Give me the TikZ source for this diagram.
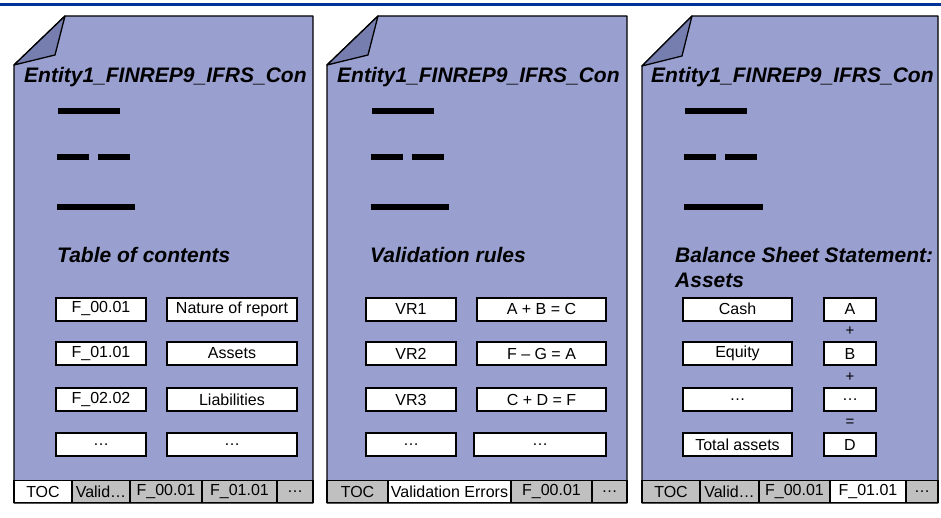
\documentclass[tikz,border=0pt]{standalone}
\usepackage{fontspec}
\setmainfont{Liberation Sans}
\definecolor{sheetblue}{RGB}{153,160,208}
\definecolor{foldblue}{RGB}{118,126,176}
\definecolor{ruleblue}{RGB}{0,51,153}
\definecolor{tabgray}{RGB}{192,192,192}
\tikzset{
  page/.style={draw=black,line width=1.3pt,fill=sheetblue,line join=round},
  corner/.style={draw=black,line width=1.3pt,fill=foldblue,line join=round},
  title/.style={anchor=west,inner sep=0pt,font=\fontsize{21}{24}\selectfont\bfseries\itshape},
  bar/.style={line width=6pt},
  cell/.style={draw=black,line width=2pt,fill=white,minimum height=23pt,inner sep=0pt,font=\fontsize{16}{18}\selectfont},
  tab/.style={draw=black,line width=1.5pt,fill=tabgray,minimum height=22pt,inner sep=0pt,font=\fontsize{16}{18}\selectfont},
  sign/.style={inner sep=0pt,font=\fontsize{15}{16}\selectfont}
}
\begin{document}
\begin{tikzpicture}[x=1pt,y=-1pt]
\useasboundingbox (0,0) rectangle (941,518);
\draw[ruleblue,line width=3pt] (0,5) -- (941,5);

%toc sheet
        \draw[page] (65,16) -- (313,16) -- (313,503) -- (14,503) -- (14,65) -- cycle;
        \draw[corner] (65,16) -- (55,55) -- (14,65) -- cycle;
        \node[title] (t1) at (24,77) {Entity1\_FINREP9\_IFRS\_Con};
        \draw[bar] (58,111) -- (120,111);
        \draw[bar] (57,157) -- (89,157);
        \draw[bar] (98,157) -- (130,157);
        \draw[bar] (57,207) -- (135,207);
        \node[title] (h1) at (57,255) {Table of contents};

        \node[cell,minimum width=90pt]  (a1) at (101,309)   {F\_00.01};
        \node[cell,minimum width=130pt] (b1) at (232,309)   {Nature of report};
        \node[cell,minimum width=90pt]  (a2) at (101,353.5) {F\_01.01};
        \node[cell,minimum width=130pt] (b2) at (232,353.5) {Assets};
        \node[cell,minimum width=90pt]  (a3) at (101,399.5) {F\_02.02};
        \node[cell,minimum width=130pt] (b3) at (232,399.5) {Liabilities};
        \node[cell,minimum width=90pt]  (a4) at (101,444.5) {…};
        \node[cell,minimum width=130pt] (b4) at (232,444.5) {…};

        \node[tab,fill=white,minimum width=58pt] (k1) at (43,491.5)  {TOC};
        \node[tab,minimum width=58pt]            (k2) at (101,491.5) {Valid…};
        \node[tab,minimum width=72pt]            (k3) at (166,491.5) {F\_00.01};
        \node[tab,minimum width=75pt]            (k4) at (239.5,491.5) {F\_01.01};
        \node[tab,minimum width=36pt]            (k5) at (295,491.5) {…};

%validation sheet
        \draw[page] (378,16) -- (627,16) -- (627,503) -- (327,503) -- (327,65) -- cycle;
        \draw[corner] (378,16) -- (368,55) -- (327,65) -- cycle;
        \node[title] (t2) at (337,77) {Entity1\_FINREP9\_IFRS\_Con};
        \draw[bar] (372,111) -- (434,111);
        \draw[bar] (371,157) -- (403,157);
        \draw[bar] (412,157) -- (444,157);
        \draw[bar] (371,207) -- (449,207);
        \node[title] (h2) at (370,255) {Validation rules};

        \node[cell,minimum width=90pt]  (c1) at (411,309)   {VR1};
        \node[cell,minimum width=129pt] (d1) at (541.5,309) {A + B = C};
        \node[cell,minimum width=90pt]  (c2) at (411,353.5) {VR2};
        \node[cell,minimum width=129pt] (d2) at (541.5,353.5) {F – G = A};
        \node[cell,minimum width=90pt]  (c3) at (411,399.5) {VR3};
        \node[cell,minimum width=129pt] (d3) at (541.5,399.5) {C + D = F};
        \node[cell,minimum width=90pt]  (c4) at (411,444.5) {…};
        \node[cell,minimum width=132pt] (d4) at (540,444.5) {…};

        \node[tab,minimum width=61pt]             (m1) at (357.5,491.5) {TOC};
        \node[tab,fill=white,minimum width=123pt] (m2) at (449.5,491.5) {Validation Errors};
        \node[tab,minimum width=81pt]             (m3) at (551.5,491.5) {F\_00.01};
        \node[tab,minimum width=35pt]             (m4) at (609.5,491.5) {…};

%assets sheet
        \draw[page] (692,16) -- (938,16) -- (938,503) -- (642,503) -- (642,66) -- cycle;
        \draw[corner] (692,16) -- (682,56) -- (642,66) -- cycle;
        \node[title] (t3) at (651,77) {Entity1\_FINREP9\_IFRS\_Con};
        \draw[bar] (685,111) -- (747,111);
        \draw[bar] (684,157) -- (716,157);
        \draw[bar] (725,157) -- (757,157);
        \draw[bar] (684,207) -- (763,207);
        \node[title] (h3) at (675,255) {Balance Sheet Statement:};
        \node[title] (h4) at (675,280) {Assets};

        \node[cell,minimum width=109pt] (e1) at (737.5,309)   {Cash};
        \node[cell,minimum width=52pt]  (f1) at (850,309)     {A};
        \node[cell,minimum width=109pt] (e2) at (737.5,353.5) {Equity};
        \node[cell,minimum width=52pt]  (f2) at (850,353.5)   {B};
        \node[cell,minimum width=109pt] (e3) at (737.5,399.5) {…};
        \node[cell,minimum width=52pt]  (f3) at (850,399.5)   {…};
        \node[cell,minimum width=109pt] (e4) at (737.5,444.5) {Total assets};
        \node[cell,minimum width=52pt]  (f4) at (850,444.5)   {D};
        \node[sign] (s1) at (850,331) {+};
        \node[sign] (s2) at (850,377) {+};
        \node[sign] (s3) at (850,423) {=};

        \node[tab,minimum width=58pt]            (n1) at (671,491.5)   {TOC};
        \node[tab,minimum width=59pt]            (n2) at (729.5,491.5) {Valid…};
        \node[tab,minimum width=71pt]            (n3) at (794.5,491.5) {F\_00.01};
        \node[tab,fill=white,minimum width=76pt] (n4) at (868,491.5)   {F\_01.01};
        \node[tab,minimum width=32pt]            (n5) at (922,491.5)   {…};
\end{tikzpicture}
\end{document}
